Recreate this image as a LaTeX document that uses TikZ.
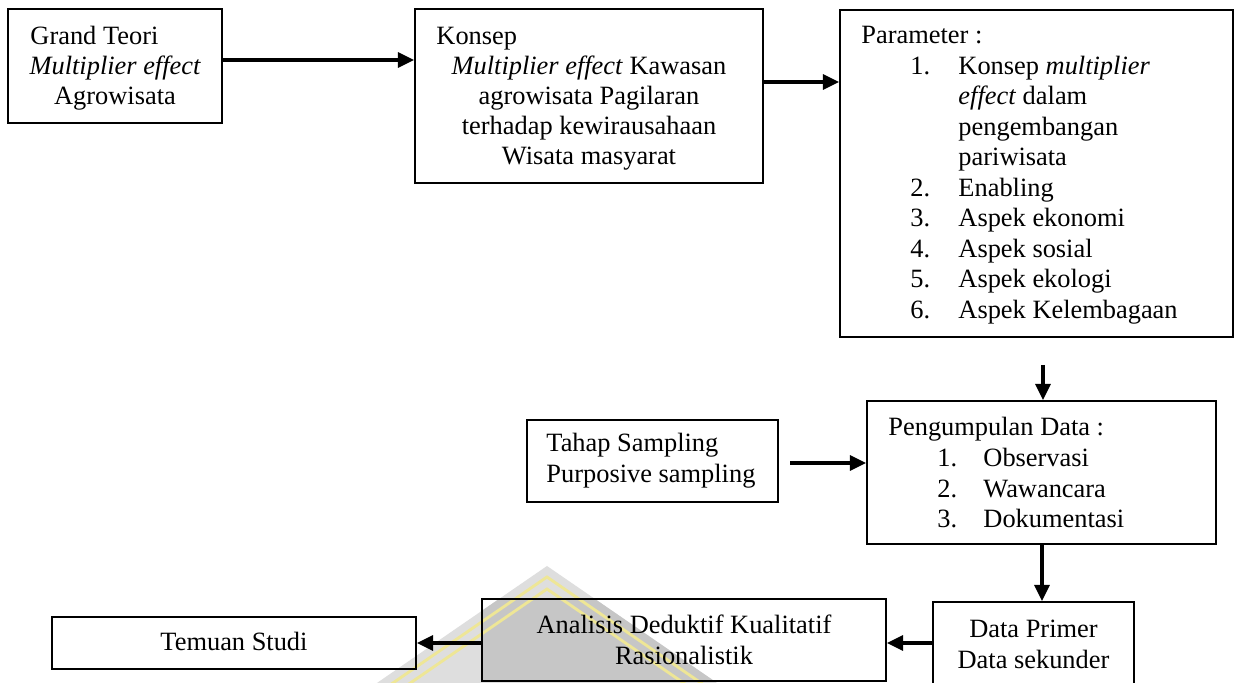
\documentclass[tikz,border=0pt]{standalone}
\usepackage{fontspec}
\setmainfont{Liberation Serif}
\usetikzlibrary{arrows.meta,fit}
\definecolor{wmgray}{RGB}{222,222,222}
\definecolor{wmdark}{RGB}{198,198,198}
\definecolor{wmyellow}{RGB}{238,230,150}
\begin{document}
\begin{tikzpicture}[x=0.4545pt,y=-0.4545pt,
  box/.style={draw=black,line width=0.9pt,inner sep=0pt,rectangle},
  arr/.style={line width=1.4pt,-{Triangle[length=7.3pt,width=6.8pt]}},
  txt/.style={inner sep=0pt,font=\fontsize{12pt}{13.9pt}\selectfont},
  lw/.style={txt,anchor=base west},
  lc/.style={txt,anchor=base},
  wmline/.style={wmyellow,line width=1.3pt}
]
\path[use as bounding box] (0,0) rectangle (1241,683);
\clip (0,0) rectangle (1241,683);
\fill[white] (0,0) rectangle (1241,683);
% watermark
\fill[wmgray] (547,566) -- (297,738) -- (797,738) -- cycle;
\begin{scope}
  \clip (482,599) rectangle (886,681);
  \fill[wmdark] (547,566) -- (297,738) -- (797,738) -- cycle;
\end{scope}
\draw[wmline] (297,749) -- (547,577) -- (797,749);
\draw[wmline] (297,761) -- (547,589) -- (797,761);

% boxes
\node[box,fit={(8,9)(222,123)}] (b1) {};
\node[box,fit={(415,9)(763,183)}] (b2) {};
\node[box,fit={(840,10)(1233,337)}] (b3) {};
\node[box,fit={(527,420)(778,502)}] (b4) {};
\node[box,fit={(867,401)(1216,544)}] (b5) {};
\node[box,fit={(933,602)(1134,700)}] (b6) {};
\node[box,fit={(482,599)(886,681)}] (b7) {};
\node[box,fit={(52,617)(416,669)}] (b8) {};

% texts box 1
\node[lw] (t1a) at (30,45) {Grand Teori};
\node[lc] (t1b) at (115,75) {\itshape Multiplier effect};
\node[lc] (t1c) at (115,105) {Agrowisata};
% box 2
\node[lw] (t2a) at (436,45) {Konsep};
\node[lc] (t2b) at (589,75) {\textit{Multiplier effect} Kawasan};
\node[lc] (t2c) at (589,105) {agrowisata Pagilaran};
\node[lc] (t2d) at (589,135) {terhadap kewirausahaan};
\node[lc] (t2e) at (589,165) {Wisata masyarat};
% box 3
\node[lw] (t3a) at (861,44) {Parameter :};
\node[lw] (n31) at (910,75) {1.};
\node[lw] (t31) at (958,75) {Konsep \textit{multiplier}};
\node[lw] (t31b) at (958,105) {\textit{effect} dalam};
\node[lw] (t31c) at (958,135.5) {pengembangan};
\node[lw] (t31d) at (958,166) {pariwisata};
\node[lw] (n32) at (910,196.5) {2.};
\node[lw] (t32) at (958,196.5) {Enabling};
\node[lw] (n33) at (910,227) {3.};
\node[lw] (t33) at (958,227) {Aspek ekonomi};
\node[lw] (n34) at (910,257.5) {4.};
\node[lw] (t34) at (958,257.5) {Aspek sosial};
\node[lw] (n35) at (910,288) {5.};
\node[lw] (t35) at (958,288) {Aspek ekologi};
\node[lw] (n36) at (910,318.5) {6.};
\node[lw] (t36) at (958,318.5) {Aspek Kelembagaan};
% box 4
\node[lw] (t4a) at (546,452) {Tahap Sampling};
\node[lw] (t4b) at (546,483) {Purposive sampling};
% box 5
\node[lw] (t5a) at (888,436) {Pengumpulan Data :};
\node[lw] (n51) at (937,467) {1.};
\node[lw] (t51) at (983,467) {Observasi};
\node[lw] (n52) at (937,497.5) {2.};
\node[lw] (t52) at (983,497.5) {Wawancara};
\node[lw] (n53) at (937,528) {3.};
\node[lw] (t53) at (983,528) {Dokumentasi};
% box 6
\node[lc] (t6a) at (1033.5,638) {Data Primer};
\node[lc] (t6b) at (1033.5,669) {Data sekunder};
% box 7
\node[lc] (t7a) at (684,634) {Analisis Deduktif Kualitatif};
\node[lc] (t7b) at (684,665) {Rasionalistik};
% box 8
\node[lc] (t8a) at (234,651) {Temuan Studi};

% connectors
\coordinate (y1) at (0,60);
\draw[arr] (b1.east |- y1) -- (b2.west |- y1);
\coordinate (y2) at (0,82);
\draw[arr] (b2.east |- y2) -- (b3.west |- y2);
\coordinate (s3) at (1043,365);
\draw[arr] (s3) -- (s3 |- b5.north);
\coordinate (s4) at (790,463);
\draw[arr] (s4) -- (s4 -| b5.west);
\coordinate (x5) at (1042,0);
\draw[arr] (b5.south -| x5) -- (b6.north -| x5);
\coordinate (y6) at (0,643);
\draw[arr] (b6.west |- y6) -- (b7.east |- y6);
\draw[arr] (b7.west |- y6) -- (b8.east |- y6);
\end{tikzpicture}
\end{document}
